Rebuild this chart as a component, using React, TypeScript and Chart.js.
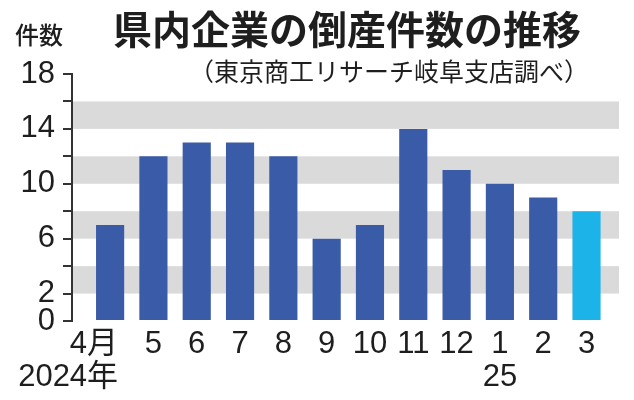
import { useEffect, useRef } from "react";
import { Chart, registerables } from "chart.js";

Chart.register(...registerables);

// data
const months = ["4月", "5", "6", "7", "8", "9", "10", "11", "12", "1", "2", "3"];
const years = ["2024年", "", "", "", "", "", "", "", "", "25", "", ""];
const counts = [7, 12, 13, 13, 12, 6, 7, 14, 11, 10, 9, 8];
const yLabelValues = [0, 2, 6, 10, 14, 18];
const bands = [
	[2, 4],
	[6, 8],
	[10, 12],
	[14, 16],
];

const TITLE = "県内企業の倒産件数の推移";
const SOURCE = "（東京商工リサーチ岐阜支店調べ）";
const UNIT = "件数";

const NUM_FONT = "'Liberation Sans', 'Noto Sans CJK JP', sans-serif";
const JP_FONT = "'Noto Sans CJK JP', sans-serif";
const BLUE = "#3a5ba8";
const CYAN = "#1cb3e8";
const INK = "#1e1e1e";

const bandPlugin = {
	id: "bands",
	beforeDatasetsDraw(chart) {
		const { ctx, chartArea, scales } = chart;
		ctx.save();
		ctx.fillStyle = "#dadada";
		bands.forEach(([lo, hi]) => {
			const top = scales.y.getPixelForValue(hi);
			const bottom = scales.y.getPixelForValue(lo);
			ctx.fillRect(chartArea.left + 1, top, chartArea.right - chartArea.left - 1, bottom - top);
		});
		ctx.restore();
	},
};

const textPlugin = {
	id: "texts",
	afterDraw(chart) {
		const { ctx, scales } = chart;
		ctx.save();
		ctx.fillStyle = INK;
		ctx.textBaseline = "middle";
		ctx.textAlign = "center";

		ctx.font = `bold 39px ${JP_FONT}`;
		ctx.fillText(TITLE, 347, 29);
		ctx.font = `500 24px ${JP_FONT}`;
		ctx.fillText(UNIT, 39, 35);
		ctx.font = `25px ${JP_FONT}`;
		ctx.fillText(SOURCE, 389, 71);

		ctx.font = `31px ${NUM_FONT}`;
		months.forEach((m, i) => {
			const cx = scales.x.getPixelForValue(i);
			if (i === 0) {
				ctx.textAlign = "right";
				ctx.fillText(m, cx + 8, 344);
				ctx.fillText(years[i], cx + 8, 377);
				ctx.textAlign = "center";
			} else {
				ctx.fillText(m, cx, 344);
				if (years[i]) ctx.fillText(years[i], cx, 377);
			}
		});
		ctx.restore();
	},
};

const App = () => {
	const chartRef = useRef<HTMLCanvasElement | null>(null);

	useEffect(() => {
		const ctx = chartRef.current.getContext("2d");
		const myChart = new Chart(ctx, {
			type: "bar",
			data: {
				datasets: [
					{
						data: counts.map((v, i) => ({ x: i, y: v })),
						backgroundColor: counts.map((_, i) => (i === counts.length - 1 ? CYAN : BLUE)),
						borderWidth: 0,
						barPercentage: 0.65,
						categoryPercentage: 1,
					},
				],
			},
			options: {
				animation: false,
				responsive: false,
				layout: { padding: { top: 74, bottom: 79, left: 0, right: 15 } },
				plugins: {
					legend: { display: false },
					tooltip: { enabled: false },
				},
				scales: {
					x: {
						type: "linear",
						display: false,
						offset: false,
						min: -0.88,
						max: 11.75,
					},
					y: {
						min: 0,
						max: 18,
						afterFit: (scale) => {
							scale.width = 72;
						},
						ticks: {
							stepSize: 2,
							autoSkip: false,
							padding: 8,
							color: INK,
							font: { family: NUM_FONT, size: 31 },
							callback: (v) => (yLabelValues.includes(Number(v)) ? String(v) : ""),
						},
						grid: {
							drawOnChartArea: false,
							drawTicks: true,
							tickLength: 9,
							color: "#333",
							lineWidth: 2,
						},
						border: { display: true, color: "#333", width: 2 },
					},
				},
			},
			plugins: [bandPlugin, textPlugin],
		});

		return () => {
			myChart.destroy();
		};
	}, []);

	return (
		<div style={{ position: "absolute", left: 0, top: 0, width: 634, height: 400, background: "#fff" }}>
			<canvas ref={chartRef} width={634} height={400} />
		</div>
	);
};

export default App;
